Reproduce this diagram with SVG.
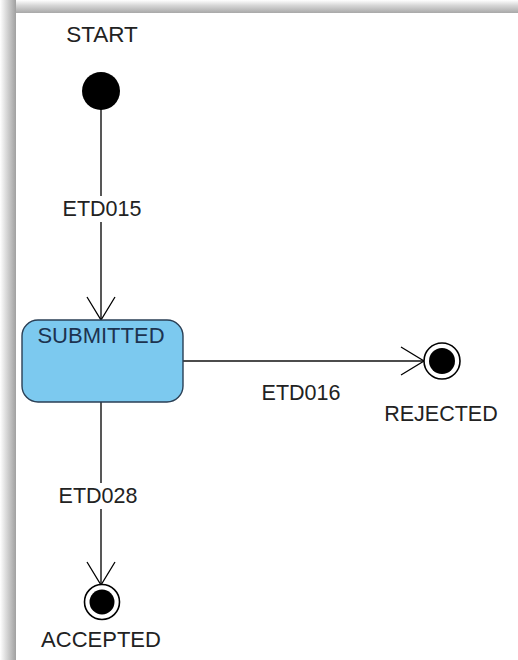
<svg xmlns="http://www.w3.org/2000/svg" width="518" height="660" viewBox="0 0 518 660">
<defs>
<linearGradient id="gTop" x1="0" y1="0" x2="0" y2="1"><stop offset="0" stop-color="#ffffff"/><stop offset="0.4" stop-color="#d8d8d8"/><stop offset="1" stop-color="#a8a8a8"/></linearGradient>
<linearGradient id="gLeft" x1="0" y1="0" x2="1" y2="0"><stop offset="0" stop-color="#ffffff"/><stop offset="0.4" stop-color="#d8d8d8"/><stop offset="1" stop-color="#a0a0a0"/></linearGradient>
<marker id="arr" markerWidth="30" markerHeight="32" refX="24" refY="15" orient="auto" markerUnits="userSpaceOnUse"><path d="M1,1 L24,15 L1,29" fill="none" stroke="#000" stroke-width="1.3"/></marker>
</defs>
<style>
text{font-family:"Liberation Sans",Arial,sans-serif;font-size:21.5px;fill:#222;text-anchor:middle}
.ln{stroke:#111;stroke-width:1.4;fill:none}
.bg{fill:#fff}
</style>
<rect width="518" height="660" fill="#fff"/>
<rect x="16" y="0" width="502" height="13" fill="url(#gTop)"/>
<rect x="0" y="0" width="16" height="660" fill="url(#gLeft)"/>
<g id="connectors">
<line class="ln" x1="101" y1="108" x2="101" y2="320" marker-end="url(#arr)"/>
<line class="ln" x1="183" y1="361" x2="424" y2="361" marker-end="url(#arr)"/>
<line class="ln" x1="101" y1="402" x2="101" y2="585" marker-end="url(#arr)"/>
<rect class="bg" x="60" y="196" width="84" height="26"/>
<text x="102" y="216">ETD015</text>
<text x="301" y="400">ETD016</text>
<rect class="bg" x="56" y="483" width="84" height="26"/>
<text x="98" y="503">ETD028</text>
</g>
<g id="start">
<circle cx="101" cy="91" r="19" fill="#000"/>
<text x="102" y="42" style="font-size:22.5px">START</text>
</g>
<g id="submitted">
<rect x="22" y="320" width="161" height="82" rx="16" fill="#7cc9ef" stroke="#2a3f55" stroke-width="1.4"/>
<text x="101" y="343" style="fill:#1c3350;font-size:22px">SUBMITTED</text>
</g>
<g id="rejected">
<circle cx="442" cy="361" r="18" fill="#fff" stroke="#000" stroke-width="1.6"/>
<circle cx="442" cy="361" r="13" fill="#000"/>
<text x="441" y="421">REJECTED</text>
</g>
<g id="accepted">
<circle cx="102" cy="602" r="17.5" fill="#fff" stroke="#000" stroke-width="1.6"/>
<circle cx="102" cy="602" r="12.5" fill="#000"/>
<text x="101" y="647" style="font-size:22px">ACCEPTED</text>
</g>
</svg>
